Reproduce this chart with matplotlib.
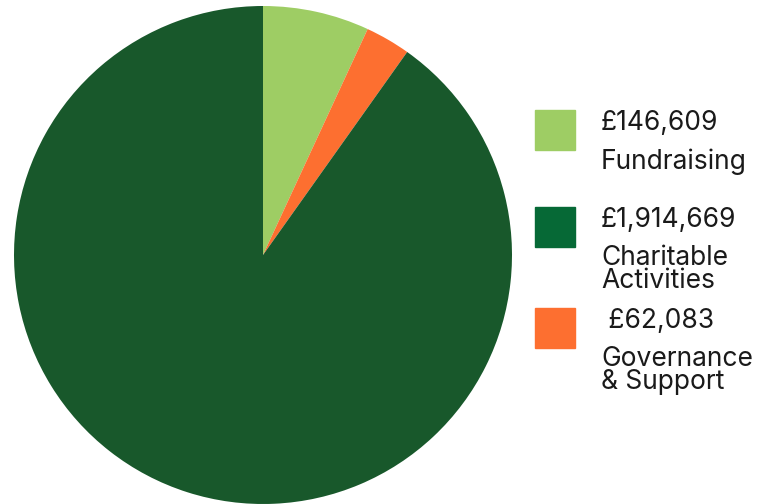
import matplotlib.pyplot as plt
from matplotlib.patches import Rectangle

# Expenditure breakdown
labels = ["Fundraising", "Charitable\nActivities", "Governance\n& Support"]
amounts = ["£146,609", "£1,914,669", " £62,083"]
values = [146609, 1914669, 62083]
pie_colors = ["#9ecd64", "#18582b", "#fd6f30"]
key_colors = ["#9ecd64", "#066936", "#fd6f30"]

W, H = 774, 504
fig = plt.figure(figsize=(W / 100, H / 100), dpi=100)

# pie: order on the chart is fundraising, governance, charitable (clockwise from top)
order = [0, 2, 1]
ax = fig.add_axes([14 / W, 0, 498 / W, 498 / H])
ax.pie([values[i] for i in order], colors=[pie_colors[i] for i in order],
       startangle=90, counterclock=False, radius=1)
ax.set_xlim(-1, 1)
ax.set_ylim(-1, 1)
ax.set_aspect("equal")
ax.axis("off")

# legend drawn by hand
box_y = [110, 207, 308]
for i in range(3):
    y = box_y[i]
    fig.patches.append(Rectangle((535 / W, 1 - (y + 40) / H), 40 / W, 40 / H,
                                 transform=fig.transFigure, color=key_colors[i]))
    fig.text(601 / W, 1 - (y + 13) / H, amounts[i], fontsize=19,
             family="Inter", color="#1a1a1a", va="center")
    fig.text(601 / W, 1 - (y + 38) / H, labels[i], fontsize=19,
             family="Inter", color="#1a1a1a", va="top", linespacing=0.85)

plt.savefig("out.png", dpi=100)
